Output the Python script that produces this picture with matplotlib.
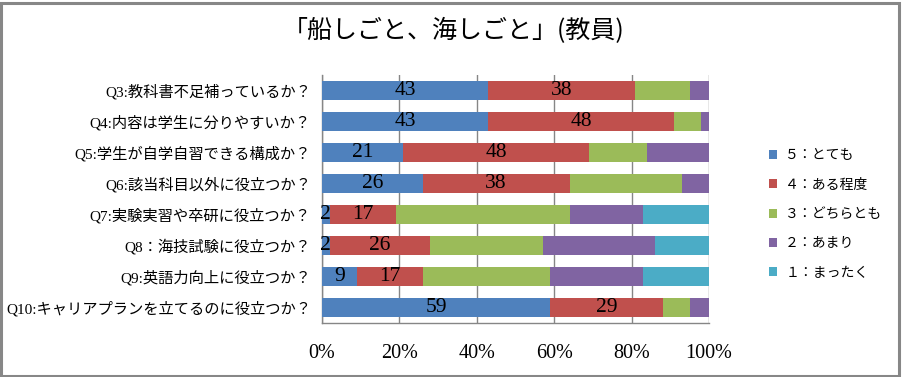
import numpy as np
import matplotlib
matplotlib.use('Agg')
import matplotlib.pyplot as plt
from matplotlib.patches import Rectangle

# 質問項目
questions = ['Q3:教科書不足補っているか？', 'Q4:内容は学生に分りやすいか？',
             'Q5:学生が自学自習できる構成か？', 'Q6:該当科目以外に役立つか？',
             'Q7:実験実習や卒研に役立つか？', 'Q8：海技試験に役立つか？',
             'Q9:英語力向上に役立つか？', 'Q10:キャリアプランを立てるのに役立つか？']

# 回答割合 (%)
very = [43, 43, 21, 26, 2, 2, 9, 59]
some = [38, 48, 48, 38, 17, 26, 17, 29]
neither = [14, 7, 15, 29, 45, 29, 33, 7]
little = [5, 2, 16, 7, 19, 29, 24, 5]
never = [0, 0, 0, 0, 17, 14, 17, 0]

series_names = ['５：とても', '４：ある程度', '３：どちらとも', '２：あまり', '１：まったく']
colors = ['#4F81BD', '#C0504D', '#9BBB59', '#8064A2', '#4BACC6']
xticks = [0, 20, 40, 60, 80, 100]
xtick_labels = ['0%', '20%', '40%', '60%', '80%', '100%']

serif_jp = ['Liberation Serif', 'Noto Sans CJK JP']
W, H = 902, 377
fig = plt.figure(figsize=(W / 100, H / 100), dpi=100)
fig.patch.set_facecolor('white')

# 外枠
fig.patches.append(Rectangle((1 / W, 1 / H), (W - 4) / W, (H - 4) / H,
                             transform=fig.transFigure, fill=False,
                             edgecolor='#878787', linewidth=2.2))

ax = fig.add_axes([322 / W, (H - 323) / H, (709 - 322) / W, (323 - 75) / H])

y = np.arange(len(questions))
data = [very, some, neither, little, never]
left = np.zeros(len(questions))
containers = []
for vals, c, name in zip(data, colors, series_names):
    vals = np.array(vals, dtype=float)
    bc = ax.barh(y, vals, left=left, height=0.645, color=c, label=name, zorder=3)
    containers.append((bc, vals))
    left += vals

# 数値ラベル (5と4のみ)
for bc, vals in containers[:2]:
    ax.bar_label(bc, labels=[f'{int(v)}' for v in vals], label_type='center',
                 fontsize=15.5, family='Liberation Serif', color='black', zorder=4)

ax.set_xlim(0, 100)
ax.set_ylim(len(questions) - 0.5, -0.5)
ax.set_xticks(xticks)
ax.set_xticklabels(xtick_labels, family='Liberation Serif', fontsize=14.5)
ax.set_yticks(y)
ax.set_yticklabels(questions, family=serif_jp, fontsize=11)
ax.tick_params(axis='both', length=0)
ax.tick_params(axis='x', pad=15)
ax.tick_params(axis='y', pad=8)
ax.grid(axis='x', color='#868686', linewidth=1.0, zorder=0)
for s in ['top', 'right']:
    ax.spines[s].set_visible(False)
for s in ['left', 'bottom']:
    ax.spines[s].set_color('#868686')
    ax.spines[s].set_linewidth(1.0)

fig.text(454 / W, 1 - 31 / H, '「船しごと、海しごと」(教員)', ha='center', va='center',
         fontsize=18, family=['Noto Sans CJK JP'])

handles, labels = ax.get_legend_handles_labels()
fig.legend(handles, labels, loc='upper left', bbox_to_anchor=(756 / W, 1 - 136 / H),
           frameon=False, handlelength=0.6, handleheight=0.6,
           handletextpad=0.6, labelspacing=1.1,
           prop={'family': ['Noto Sans CJK JP'], 'size': 10})

fig.savefig('out.png', dpi=100)
